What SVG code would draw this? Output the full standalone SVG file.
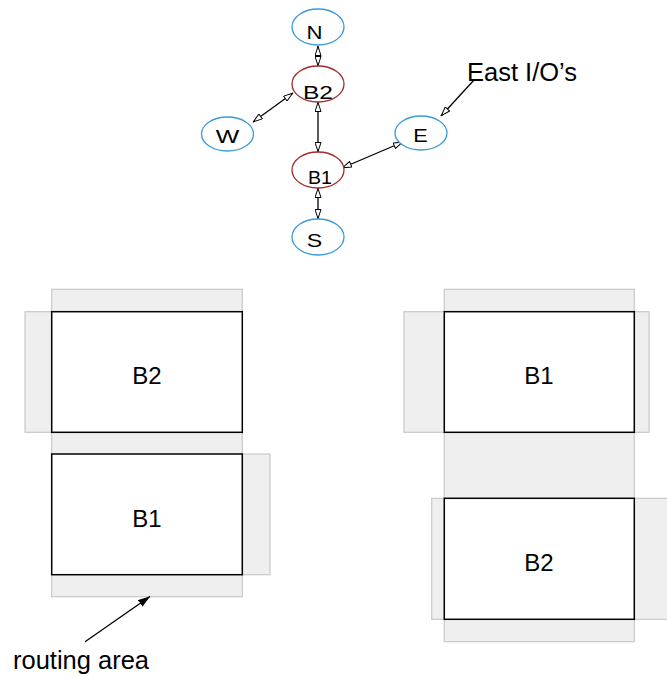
<svg xmlns="http://www.w3.org/2000/svg" width="667" height="677" viewBox="0 0 667 677">
  <defs>
    <style>
      .io { fill: #ffffff; stroke: #3a9ad9; stroke-width: 1.3; }
      .blk { fill: #ffffff; stroke: #a52a2a; stroke-width: 1.3; }
      .lbl { font-family: "Liberation Sans", Arial, sans-serif; font-size: 19px; fill: #000; text-anchor: middle; }
      .big { font-family: "Liberation Sans", Arial, sans-serif; font-size: 24px; fill: #000; }
      .note { font-family: "Liberation Sans", Arial, sans-serif; font-size: 26px; fill: #000; }
      .edge { stroke: #000; stroke-width: 1.3; fill: none; }
      .route { fill: #efefef; stroke: #c8c8c8; stroke-width: 1.2; }
      .box { fill: #ffffff; stroke: #000; stroke-width: 1.5; }
    </style>
    <marker id="hollow" viewBox="0 0 10 7" refX="10" refY="3.5" markerWidth="10" markerHeight="7" markerUnits="userSpaceOnUse" orient="auto-start-reverse">
      <path d="M0.5,0.5 L9.5,3.5 L0.5,6.5 z" fill="#fff" stroke="#000" stroke-width="1"/>
    </marker>
    <marker id="solid" viewBox="0 0 12 8" refX="12" refY="4" markerWidth="12" markerHeight="8" markerUnits="userSpaceOnUse" orient="auto">
      <path d="M0,0 L12,4 L0,8 z" fill="#000"/>
    </marker>
  </defs>

  <!-- connectivity graph -->
  <g id="edges">
    <line class="edge" x1="318" y1="46" x2="318" y2="66" marker-start="url(#hollow)" marker-end="url(#hollow)"/>
    <line class="edge" x1="318" y1="102" x2="318" y2="152" marker-start="url(#hollow)" marker-end="url(#hollow)"/>
    <line class="edge" x1="318" y1="188" x2="318" y2="219" marker-start="url(#hollow)" marker-end="url(#hollow)"/>
    <line class="edge" x1="293" y1="93" x2="253" y2="122" marker-start="url(#hollow)" marker-end="url(#hollow)"/>
    <line class="edge" x1="342" y1="168" x2="403" y2="142" marker-start="url(#hollow)" marker-end="url(#hollow)"/>
    <line class="edge" x1="474" y1="80" x2="441" y2="116" marker-end="url(#hollow)"/>
  </g>

  <g id="node-N">
    <ellipse class="io" cx="318" cy="27" rx="26" ry="18"/>
    <text class="lbl" x="314.5" y="39" textLength="16" lengthAdjust="spacingAndGlyphs">N</text>
  </g>
  <g id="node-B2">
    <ellipse class="blk" cx="318" cy="84" rx="26" ry="18"/>
    <text class="lbl" x="318" y="99" textLength="30" lengthAdjust="spacingAndGlyphs">B2</text>
  </g>
  <g id="node-W">
    <ellipse class="io" cx="227.5" cy="134" rx="26" ry="17"/>
    <text class="lbl" x="227.5" y="143" textLength="23.5" lengthAdjust="spacingAndGlyphs">W</text>
  </g>
  <g id="node-E">
    <ellipse class="io" cx="421" cy="133" rx="26" ry="17"/>
    <text class="lbl" x="420.5" y="142" textLength="14.5" lengthAdjust="spacingAndGlyphs">E</text>
  </g>
  <g id="node-B1">
    <ellipse class="blk" cx="318" cy="170" rx="26" ry="18"/>
    <text class="lbl" x="320" y="183.5" textLength="24" lengthAdjust="spacingAndGlyphs">B1</text>
  </g>
  <g id="node-S">
    <ellipse class="io" cx="318" cy="237" rx="26" ry="18"/>
    <text class="lbl" x="314.5" y="247" textLength="15.5" lengthAdjust="spacingAndGlyphs">S</text>
  </g>

  <g id="note-east">
    <text class="note" x="467" y="81" textLength="110" lengthAdjust="spacingAndGlyphs">East I/O’s</text>
  </g>

  <!-- left floorplan -->
  <g id="floorplan-left">
    <rect class="route" x="51.7" y="289.3" width="190.6" height="307.4"/>
    <rect class="route" x="25" y="311.7" width="26.7" height="120.6"/>
    <rect class="route" x="242.3" y="454" width="27.7" height="120.7"/>
    <rect class="box" x="51.7" y="311.7" width="190.6" height="120.6"/>
    <rect class="box" x="51.7" y="454" width="190.6" height="120.7"/>
    <text class="big" x="147" y="384" text-anchor="middle">B2</text>
    <text class="big" x="147" y="526.5" text-anchor="middle">B1</text>
  </g>

  <!-- right floorplan -->
  <g id="floorplan-right">
    <rect class="route" x="444.3" y="289.3" width="190" height="352.4"/>
    <rect class="route" x="404" y="311.7" width="40.3" height="120.6"/>
    <rect class="route" x="634.3" y="311.7" width="14.7" height="120.6"/>
    <rect class="route" x="431.7" y="498.3" width="12.6" height="121"/>
    <rect class="route" x="634.3" y="498.3" width="40" height="121"/>
    <rect class="box" x="444.3" y="311.7" width="190" height="120.6"/>
    <rect class="box" x="444.3" y="498.3" width="190" height="121"/>
    <text class="big" x="539" y="384" text-anchor="middle">B1</text>
    <text class="big" x="539" y="570.8" text-anchor="middle">B2</text>
  </g>

  <g id="note-routing">
    <line class="edge" x1="85" y1="641.7" x2="150" y2="596.5" marker-end="url(#solid)"/>
    <text class="note" x="13" y="669" textLength="136" lengthAdjust="spacingAndGlyphs">routing area</text>
  </g>
</svg>
